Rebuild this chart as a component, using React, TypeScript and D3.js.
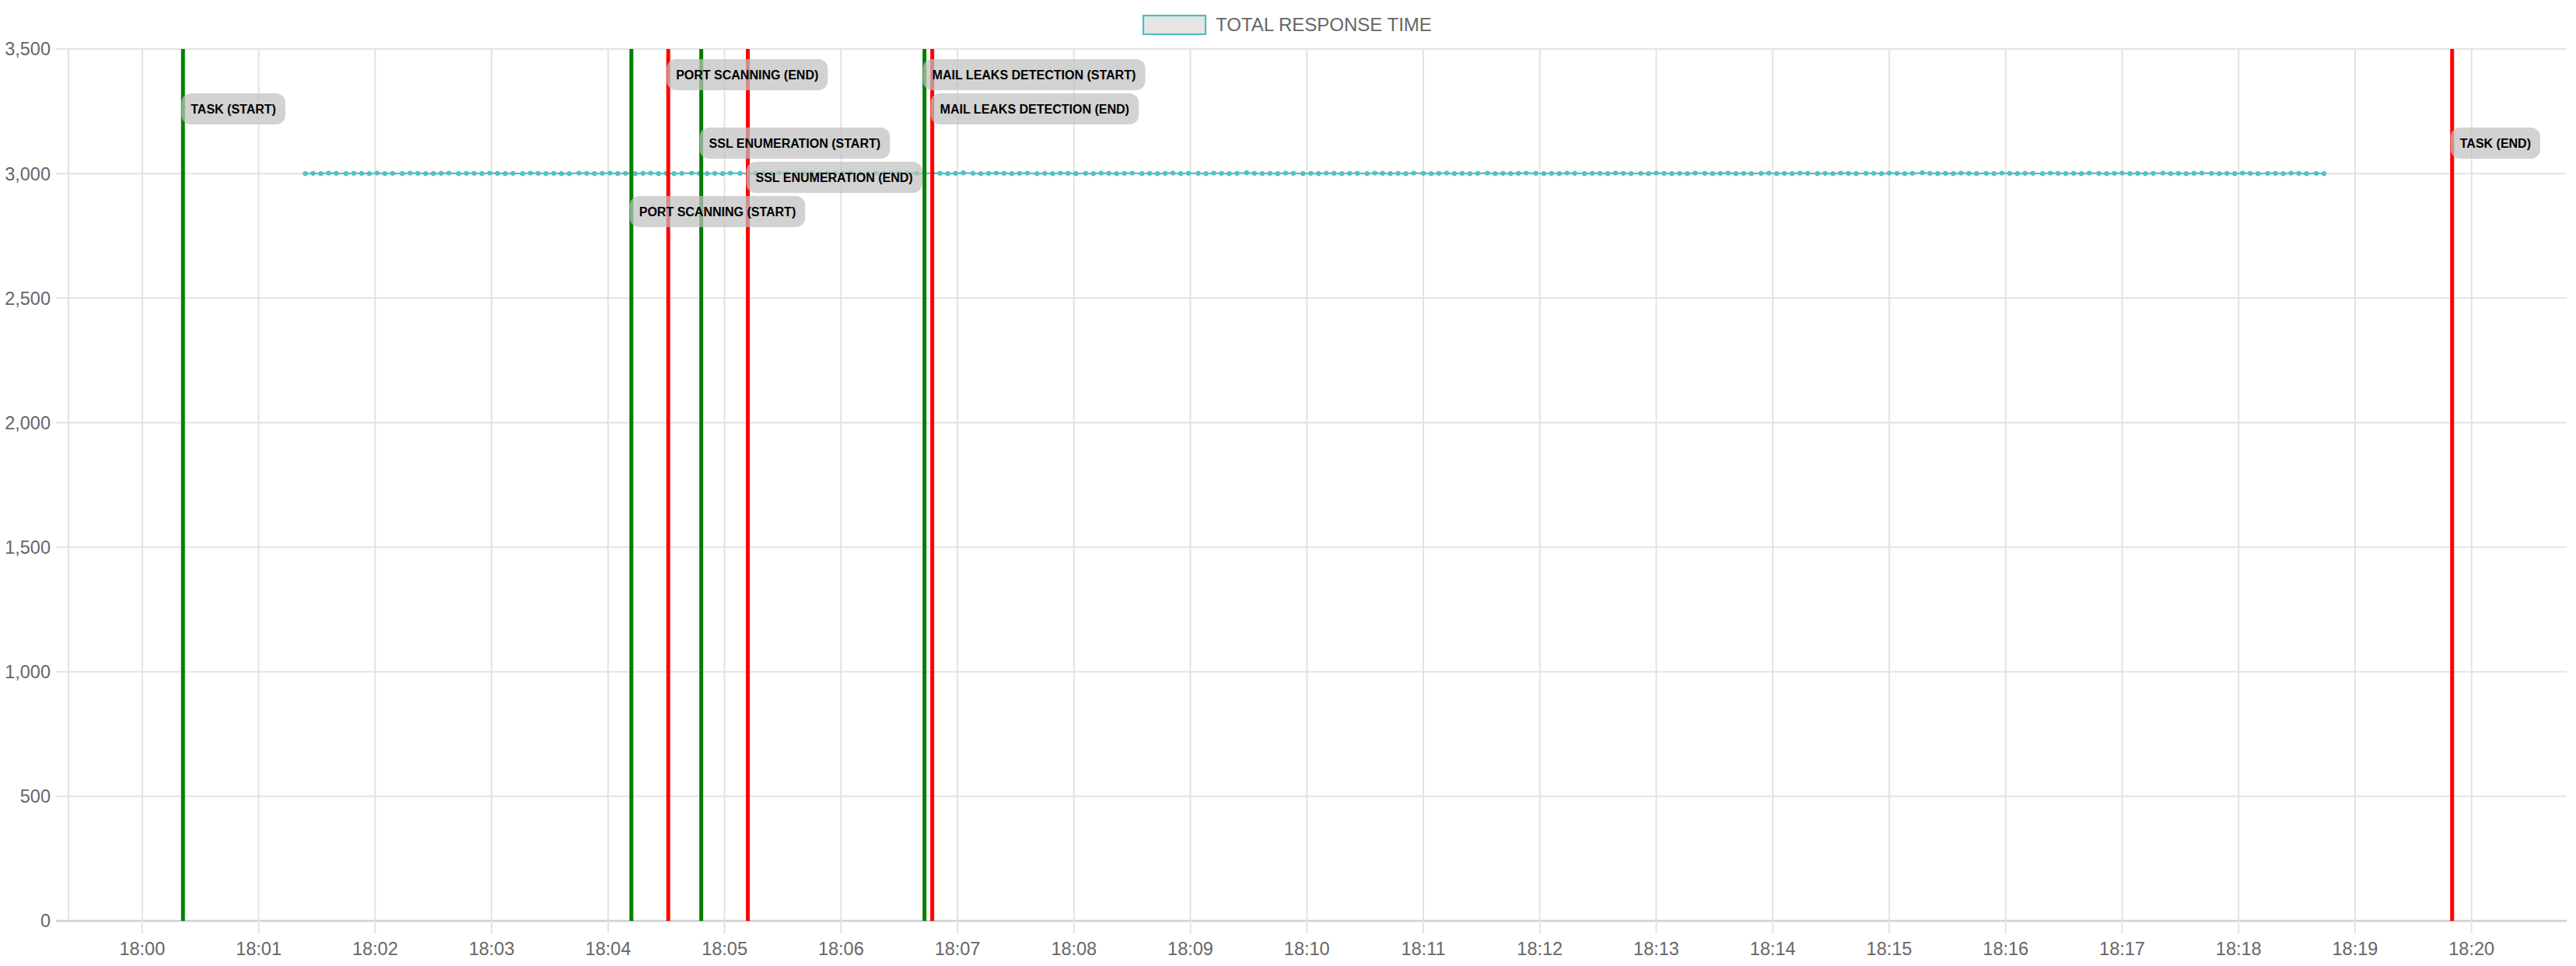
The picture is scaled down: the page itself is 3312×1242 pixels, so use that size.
import * as d3 from "d3";

// x axis span and sampling (UTC clock, hh:mm:ss)
const AXIS_START = "17:59:22";
const AXIS_END = "18:20:49";
const FIRST_SAMPLE = "18:01:24";
const yTicks = [0, 500, 1000, 1500, 2000, 2500, 3000, 3500];
const SERIES_NAME = "TOTAL RESPONSE TIME";

// seconds between successive samples
const sampleGapsSec = [
  4, 4, 4, 4, 5, 4, 4, 4, 4, 4, 4, 5, 4, 4,
  4, 4, 4, 4, 5, 4, 4, 4, 4, 4, 4, 4, 5, 4,
  4, 4, 4, 4, 4, 5, 4, 4, 4, 4, 4, 4, 5, 4,
  4, 4, 4, 4, 4, 5, 4, 4, 4, 4, 4, 5, 4, 4,
  4, 4, 4, 4, 5, 4, 4, 4, 4, 4, 4, 4, 5, 4,
  4, 4, 4, 4, 4, 5, 4, 4, 4, 4, 4, 4, 5, 4,
  4, 4, 4, 4, 4, 4, 5, 4, 4, 4, 4, 4, 5, 4,
  4, 4, 4, 4, 4, 5, 4, 4, 4, 4, 4, 4, 5, 4,
  4, 4, 4, 4, 5, 4, 4, 4, 4, 4, 4, 5, 4, 4,
  4, 4, 4, 4, 4, 5, 4, 4, 4, 4, 4, 4, 5, 4,
  4, 4, 4, 4, 4, 4, 5, 4, 4, 4, 4, 4, 5, 4,
  4, 4, 4, 4, 5, 4, 4, 4, 4, 4, 4, 5, 4, 4,
  4, 4, 4, 4, 4, 5, 4, 4, 4, 4, 4, 4, 5, 4,
  4, 4, 4, 4, 4, 5, 4, 4, 4, 4, 4, 5, 4, 4,
  4, 4, 4, 4, 5, 4, 4, 4, 4, 4, 4, 4, 5, 4,
  4, 4, 4, 4, 4, 5, 4, 4, 4, 4, 4, 4, 5, 4,
  4, 4, 4, 4, 4, 4, 5, 4, 4, 4, 4, 4, 5, 4,
  4, 4, 4, 4, 4, 5, 4, 4, 4, 4, 4, 5, 4,
];

// total response time (ms) per sample
const responseTimesMs = [
  3000, 3001, 3000, 3002, 3001, 3000, 3001, 3001, 3000, 3002, 3000, 3001,
  3000, 3002, 3001, 3000, 3000, 3001, 3002, 3000, 3001, 3001, 3000, 3002,
  3001, 3000, 3001, 3000, 3002, 3001, 3000, 3001, 3000, 3000, 3002, 3001,
  3000, 3001, 3002, 3000, 3001, 3000, 3001, 3002, 3000, 3001, 3000, 3001,
  3002, 3001, 3000, 3001, 3000, 3002, 3001, 3000, 3001, 3001, 3000, 3002,
  3001, 3000, 3001, 3002, 3000, 3001, 3000, 3001, 3002, 3000, 3001, 3001,
  3000, 3002, 3001, 3000, 3001, 3000, 3002, 3001, 3000, 3001, 3003, 3001,
  3000, 3001, 3002, 3001, 3000, 3001, 3002, 3000, 3001, 3000, 3002, 3001,
  3000, 3001, 3000, 3002, 3001, 3000, 3001, 3002, 3000, 3001, 3000, 3001,
  3002, 3000, 3001, 3001, 3000, 3002, 3001, 3000, 3001, 3003, 3001, 3000,
  3001, 3000, 3002, 3001, 3000, 3001, 3000, 3002, 3001, 3000, 3001, 3001,
  3000, 3002, 3001, 3000, 3001, 3000, 3002, 3001, 3000, 3001, 3002, 3000,
  3001, 3000, 3001, 3002, 3000, 3001, 3000, 3001, 3002, 3001, 3000, 3001,
  3000, 3002, 3001, 3000, 3001, 3001, 3000, 3002, 3001, 3000, 3001, 3000,
  3002, 3001, 3000, 3001, 3000, 3002, 3001, 3000, 3001, 3002, 3000, 3001,
  3000, 3001, 3002, 3000, 3001, 3000, 3002, 3001, 3000, 3001, 3000, 3002,
  3001, 3000, 3001, 3001, 3000, 3002, 3001, 3000, 3001, 3003, 3001, 3000,
  3001, 3000, 3002, 3001, 3000, 3001, 3000, 3002, 3001, 3000, 3001, 3001,
  3000, 3002, 3001, 3000, 3001, 3000, 3002, 3001, 3000, 3001, 3002, 3000,
  3001, 3000, 3001, 3002, 3000, 3001, 3000, 3001, 3002, 3001, 3000, 3001,
  3000, 3002, 3001, 3000, 3001, 3001, 3000, 3002, 3001, 3000, 3001, 3000,
];

// task phase markers
const eventNames = [
  "TASK (START)",
  "PORT SCANNING (START)",
  "PORT SCANNING (END)",
  "SSL ENUMERATION (START)",
  "SSL ENUMERATION (END)",
  "MAIL LEAKS DETECTION (START)",
  "MAIL LEAKS DETECTION (END)",
  "TASK (END)",
];
const eventTimes = [
  "18:00:21",
  "18:04:12",
  "18:04:31",
  "18:04:48",
  "18:05:12",
  "18:06:43",
  "18:06:47",
  "18:19:50",
];
const eventKinds = ["start", "start", "end", "start", "end", "start", "end", "end"];

const W = 3312;
const H = 1242;
const FONT = "'Liberation Sans', Arial, sans-serif";
const TEAL = "rgb(75,192,192)";

const clock = (s: string) => {
  const [h, m, sec] = s.split(":").map(Number);
  return new Date(Date.UTC(2024, 0, 1, h, m, sec));
};

let ctx: CanvasRenderingContext2D | null = null;
const textWidth = (text: string, font: string) => {
  if (!ctx) ctx = document.createElement("canvas").getContext("2d");
  if (!ctx) return text.length * 9;
  ctx.font = font;
  return ctx.measureText(text).width;
};

export default function App() {
  const left = 88;
  const right = 3300;
  const top = 63;
  const bottom = 1184;
  const tickLen = 16;

  const x = d3
    .scaleUtc()
    .domain([clock(AXIS_START), clock(AXIS_END)])
    .range([left, right]);
  const y = d3.scaleLinear().domain([0, 3500]).range([bottom, top]);

  const xTicks = x.ticks(d3.utcMinute.every(1)!);
  const fmtX = d3.utcFormat("%H:%M");
  const fmtY = d3.format(",");

  // sample times built from the gap list
  const t0 = clock(FIRST_SAMPLE).getTime();
  const sampleTimes: Date[] = [new Date(t0)];
  sampleGapsSec.forEach((g, i) => {
    sampleTimes.push(new Date(sampleTimes[i].getTime() + g * 1000));
  });
  const points = responseTimesMs
    .slice(0, sampleTimes.length)
    .map((v, i) => ({ t: sampleTimes[i], v }));

  const line = d3
    .line<{ t: Date; v: number }>()
    .x((d) => x(d.t))
    .y((d) => y(d.v));

  // label stacking rows (layout only)
  const labelRow = [1, 4, 0, 2, 3, 0, 1, 2];
  const rowY0 = 96;
  const rowStep = 44;
  const labelFont = `bold 16px ${FONT}`;

  return (
    <div style={{ position: "fixed", left: 0, top: 0 }}>
      <svg width={W} height={H} style={{ display: "block", background: "#fff" }}>
        {/* legend */}
        <rect x={1470} y={20} width={80} height={24} fill="rgba(0,0,0,0.1)" stroke={TEAL} strokeWidth={2.2} />
        <text x={1563} y={39.5} fontFamily={FONT} fontSize={24} fill="#666">
          {SERIES_NAME}
        </text>

        {/* horizontal grid */}
        {yTicks.map((v) => (
          <g key={`y${v}`}>
            <line
              x1={left - tickLen}
              x2={right}
              y1={y(v)}
              y2={y(v)}
              stroke={v === 0 ? "#cfcfcf" : "#e3e3e3"}
              strokeWidth={v === 0 ? 2.6 : 2}
            />
            <text
              x={65}
              y={y(v) + 8.4}
              textAnchor="end"
              fontFamily={FONT}
              fontSize={23.5}
              fill="#666"
            >
              {fmtY(v)}
            </text>
          </g>
        ))}

        {/* vertical grid */}
        <line x1={left} x2={left} y1={top} y2={bottom} stroke="#e3e3e3" strokeWidth={2} />
        {xTicks.map((t) => (
          <g key={`x${t.getTime()}`}>
            <line x1={x(t)} x2={x(t)} y1={top} y2={bottom + tickLen} stroke="#e3e3e3" strokeWidth={2} />
            <text
              x={x(t)}
              y={1228}
              textAnchor="middle"
              fontFamily={FONT}
              fontSize={23.5}
              fill="#666"
            >
              {fmtX(t)}
            </text>
          </g>
        ))}

        {/* series */}
        <path d={line(points) ?? ""} fill="none" stroke={TEAL} strokeWidth={2} />
        {points.map((p, i) => (
          <circle
            key={`p${i}`}
            cx={x(p.t)}
            cy={y(p.v)}
            r={2.2}
            fill="rgba(75,192,192,0.55)"
            stroke={TEAL}
            strokeWidth={1.8}
          />
        ))}

        {/* event lines */}
        {eventTimes.map((s, i) => (
          <line
            key={`e${i}`}
            x1={x(clock(s))}
            x2={x(clock(s))}
            y1={top}
            y2={bottom}
            stroke={eventKinds[i] === "start" ? "#008000" : "#ff0000"}
            strokeWidth={5}
          />
        ))}

        {/* event labels */}
        {eventNames.map((name, i) => {
          const lx = x(clock(eventTimes[i])) - 2;
          const cy = rowY0 + labelRow[i] * rowStep;
          const w = textWidth(name, labelFont) + 24;
          return (
            <g key={`l${i}`}>
              <rect
                x={lx}
                y={cy - 20}
                width={w}
                height={40}
                rx={12}
                ry={12}
                fill="rgba(192,192,192,0.72)"
              />
              <text
                x={lx + 12}
                y={cy + 5.8}
                fontFamily={FONT}
                fontWeight="bold"
                fontSize={16}
                fill="#000"
              >
                {name}
              </text>
            </g>
          );
        })}
      </svg>
    </div>
  );
}
